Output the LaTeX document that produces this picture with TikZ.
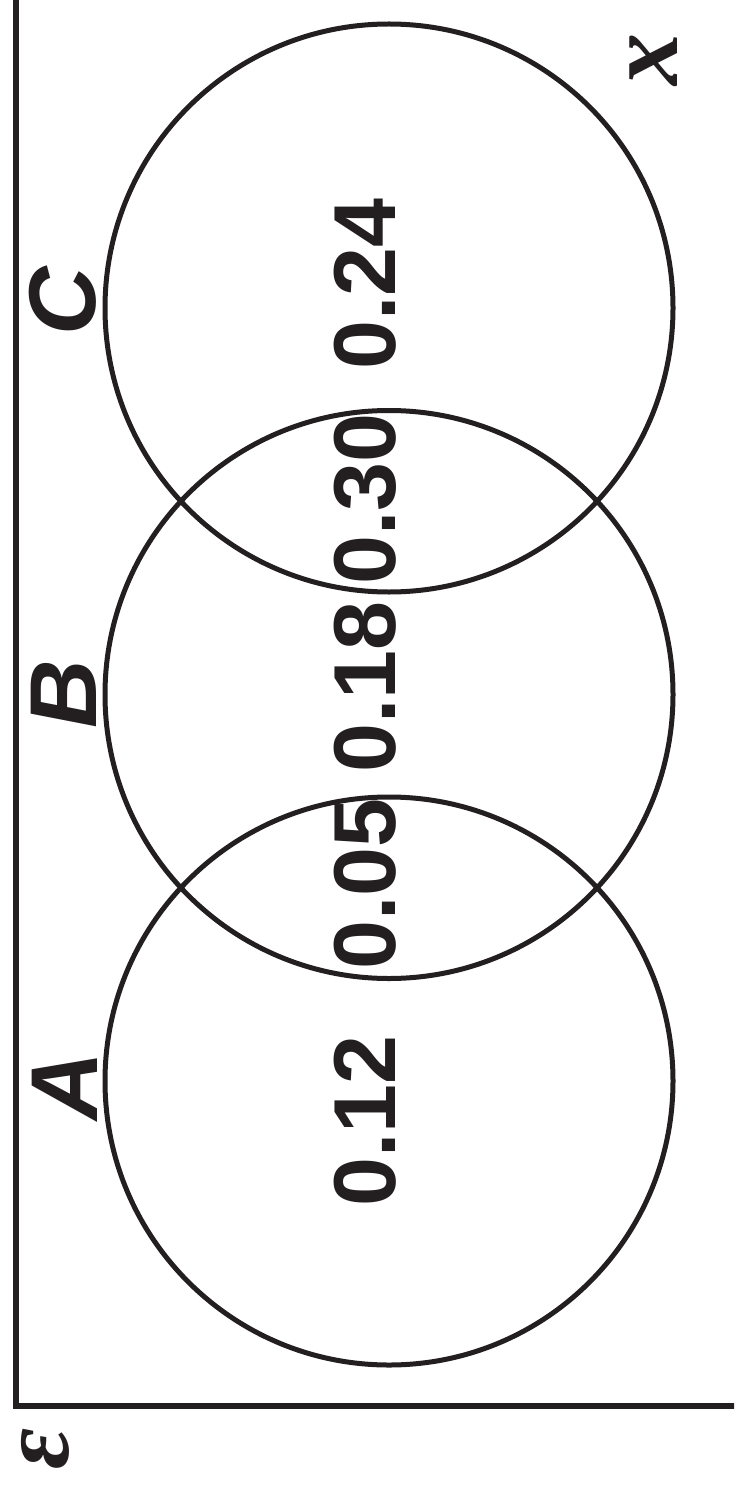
\documentclass[tikz,border=0pt]{standalone}
\usepackage{fontspec}
\setmainfont{Liberation Sans}
\newfontfamily\serifit{Liberation Serif}
\definecolor{ink}{HTML}{231F20}
\begin{document}
\begin{tikzpicture}[x=1pt,y=-1pt,
  setcircle/.style={circle,draw=ink,line width=5pt,inner sep=0pt,minimum size=568pt},
  prob/.style={rotate=90,inner sep=0pt,text=ink,font=\fontsize{88}{88}\selectfont\bfseries},
  setlabel/.style={rotate=90,inner sep=0pt,text=ink,font=\fontsize{95}{95}\selectfont\bfseries\itshape},
  symb/.style={rotate=90,inner sep=0pt,text=ink,font=\fontsize{104}{104}\selectfont\serifit\bfseries\itshape}]
\useasboundingbox (0,0) rectangle (734,1487);
\clip (0,0) rectangle (734,1487);
\fill[white] (0,0) rectangle (734,1487);
% universal set frame (top and right edges off the page)
\coordinate (ftop) at (16,-20);
\coordinate (fcorner) at (16,1406);
\coordinate (fright) at (760,1406);
\draw[ink,line width=6pt] (ftop) -- (fcorner) -- (fright);
% sets
\node[setcircle] (cA) at (389,1081) {};
\node[setcircle] (cB) at (389,694.5) {};
\node[setcircle] (cC) at (389,308) {};
% set labels
\node[setlabel] (lA) at (65,1086) {A};
\node[setlabel] (lB) at (64,694) {B};
\node[setlabel] (lC) at (63,301) {C};
% probabilities
\node[prob] (p12) at (365,1121) {0.12};
\node[prob] (p05) at (365,884) {0.05};
\node[prob] (p18) at (365,687) {0.18};
\node[prob] (p30) at (365,499) {0.30};
\node[prob] (p24) at (365,284) {0.24};
% symbols
\node[symb] (eps) at (45,1449) {\fontsize{100}{100}\selectfont ε};
\node[symb] (xx) at (654,60) {x};
\end{tikzpicture}
\end{document}
